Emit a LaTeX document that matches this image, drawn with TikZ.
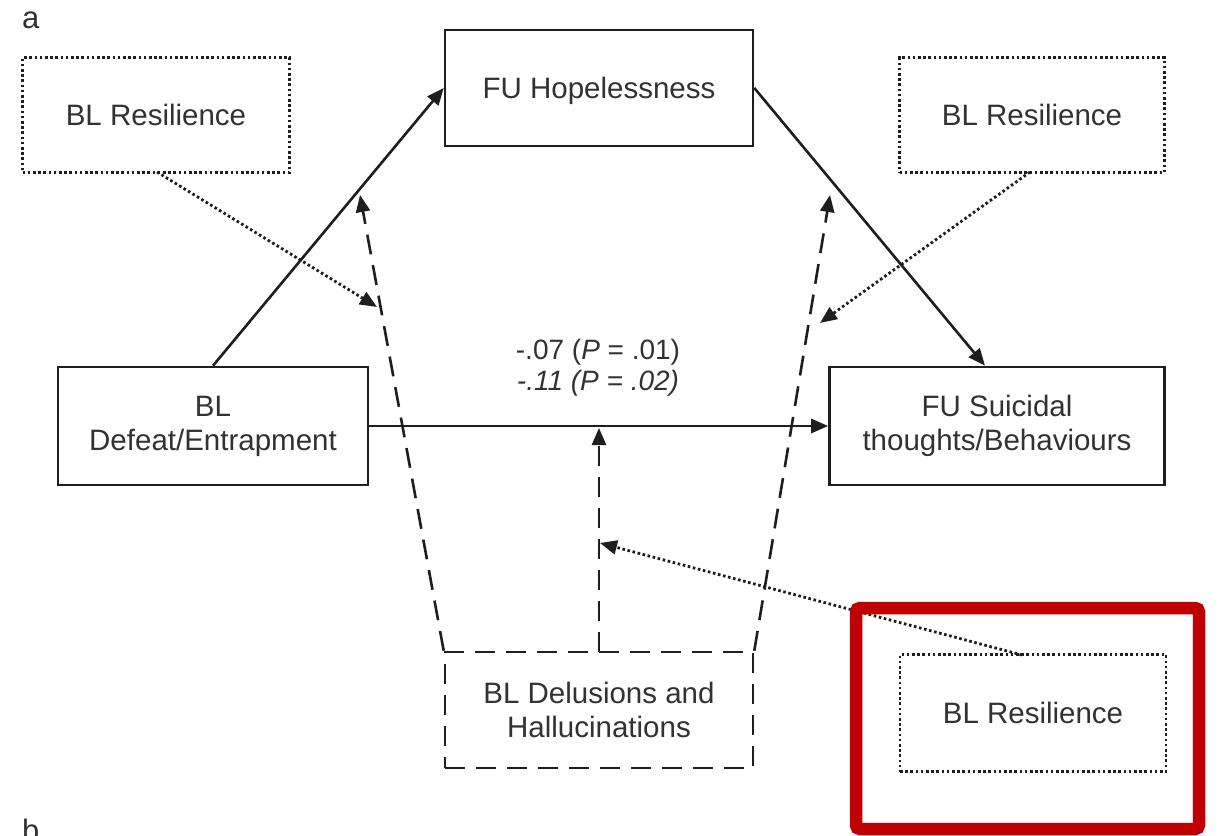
\documentclass[tikz,border=0pt]{standalone}
\usepackage{fontspec}
\setmainfont{Liberation Sans}
\usetikzlibrary{arrows.meta,calc}
\definecolor{ink}{RGB}{30,30,30}
\definecolor{txt}{RGB}{50,50,50}
\definecolor{hlred}{RGB}{192,0,0}
\tikzset{
  lbl/.style={text=txt, font=\fontsize{29.5}{34}\selectfont, align=center},
  solidbox/.style={lbl, draw=ink, line width=2.6pt, inner sep=0pt},
  dotbox/.style={lbl, draw=ink, line width=2.8pt, dash pattern=on 2.6pt off 2.6pt, inner sep=0pt},
  dashbox/.style={lbl, draw=ink, line width=2.6pt, dash pattern=on 20pt off 11pt, inner sep=0pt},
  tip/.style={-{Triangle[length=17pt,width=14pt]}},
  solidarrow/.style={tip, draw=ink, line width=2.6pt},
  dasharrow/.style={tip, draw=ink, line width=2.6pt, dash pattern=on 20pt off 11pt},
  dotarrow/.style={tip, draw=ink, line width=2.8pt, dash pattern=on 2.6pt off 2.6pt},
}
\begin{document}
\begin{tikzpicture}[x=1pt,y=-1pt]
\useasboundingbox (0,0) rectangle (1220,835);
\clip (0,0) rectangle (1220,835);
\fill[white] (0,0) rectangle (1220,835);

% panel letters
\node[text=txt, font=\fontsize{31}{36}\selectfont, anchor=base west, inner sep=0pt] (la) at (22,28) {a};
\node[text=txt, font=\fontsize{31}{36}\selectfont, anchor=base west, inner sep=0pt] (lb) at (22,841) {b};

% boxes
\node[solidbox, minimum width=308pt, minimum height=116pt, text height=21pt, text depth=0pt] (hope) at (599,88) {FU Hopelessness};
\node[solidbox, minimum width=310pt, minimum height=118pt] (def) at (213,426) {BL\\Defeat/Entrapment};
\node[solidbox, minimum width=335pt, minimum height=118pt] (suic) at (997,426) {FU Suicidal\\thoughts/Behaviours};
\node[dashbox, minimum width=308pt, minimum height=116pt] (del) at (599,710) {BL Delusions and\\Hallucinations};
\node[dotbox, minimum width=267pt, minimum height=115pt] (resTL) at (156,115) {BL Resilience};
\node[dotbox, minimum width=265pt, minimum height=115pt] (resTR) at (1032,115) {BL Resilience};
\node[dotbox, minimum width=266pt, minimum height=117pt] (resBR) at (1033,713) {BL Resilience};

% coordinates for moderation targets
\coordinate (tipL) at (360,195);
\coordinate (tipR) at (830,195);
\coordinate (delmid) at (599,652);
\coordinate (direct) at (599,428);
\coordinate (modL) at (377,307);
\coordinate (modR) at (820,323);
\coordinate (modM) at (600,543);
\coordinate (resTLs) at (157,172);
\coordinate (resTRs) at (1030,172);
\coordinate (resBRs) at (1022,655);

% solid paths
\draw[solidarrow] (def.north) -- (hope.west);
\draw[solidarrow] (hope.east) -- ($(suic.north)+(-12,0)$);
\draw[solidarrow] (def.east) -- (suic.west);

% coefficient label
\node[lbl, font=\fontsize{28}{31}\selectfont] (coef) at (598,368) {-.07 (\textit{P} = .01)\\\textit{-.11 (P = .02)}};

% dashed moderation paths
\draw[dasharrow] (del.north west) -- (tipL);
\draw[dasharrow] (del.north east) -- (tipR);
\draw[dasharrow] (delmid) -- (direct);

% dotted moderation paths
\draw[dotarrow] (resTLs) -- (modL);
\draw[dotarrow] (resTRs) -- (modR);
\draw[dotarrow] (resBRs) -- (modM);

% highlight
\draw[hlred, line width=12.5pt, rounded corners=4pt] (856,608) rectangle (1199,829);
\end{tikzpicture}
\end{document}
